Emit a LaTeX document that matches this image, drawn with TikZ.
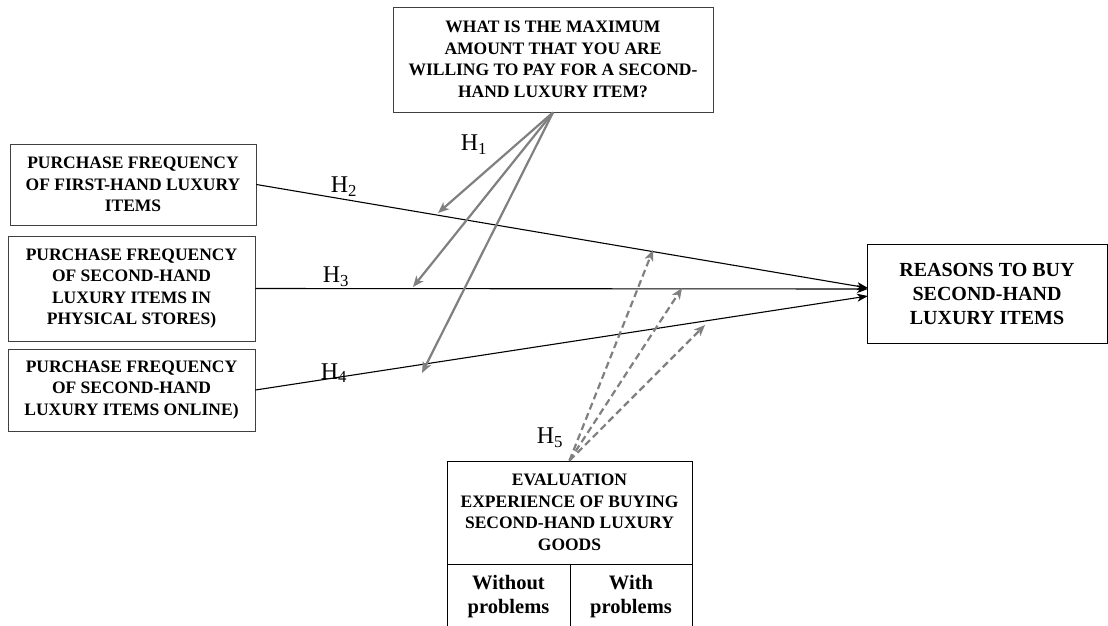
\documentclass[tikz,border=0pt]{standalone}
\usepackage{fontspec}
\setmainfont{Liberation Serif}
\usetikzlibrary{arrows.meta}
\tikzset{
  box/.style={draw=black!75, line width=0.9pt, align=center, inner sep=0pt, font=\fontsize{17.5}{21.5}\selectfont\bfseries},
  blk/.style={draw=black, line width=1.1pt, -{Stealth[length=11pt,width=8pt,inset=3pt]}},
  gry/.style={draw=black!50, line width=2.2pt, -{Stealth[length=11pt,width=9pt,inset=3pt]}},
  dsh/.style={draw=black!50, line width=2.2pt, dash pattern=on 7pt off 4pt, -{Stealth[length=11pt,width=9pt,inset=3pt]}},
  hl/.style={font=\fontsize{24}{26}\selectfont},
  sub/.style={draw=black, line width=0.9pt, align=center, inner sep=0pt, font=\fontsize{20.5}{24}\selectfont\bfseries}
}
\begin{document}
\begin{tikzpicture}[x=1pt,y=-1pt]
\useasboundingbox (0,0) rectangle (1108,625);
\fill[white] (0,0) rectangle (1108,625);
\begin{scope}
\clip (0,0) rectangle (1108,625);
\node[box, minimum width=320pt, minimum height=105pt] (top) at (553,59.5) {WHAT IS THE MAXIMUM\\AMOUNT THAT YOU ARE\\WILLING TO PAY FOR A SECOND-\\HAND LUXURY ITEM?};
\node[box, minimum width=246pt, minimum height=81pt] (b1) at (133,184.5) {PURCHASE FREQUENCY\\OF FIRST-HAND LUXURY\\ITEMS};
\node[box, minimum width=247pt, minimum height=105pt] (b2) at (131.5,288.5) {PURCHASE FREQUENCY\\OF SECOND-HAND\\LUXURY ITEMS IN\\PHYSICAL STORES)};
\node[box, draw=black, minimum width=240pt, minimum height=99pt, font=\fontsize{20}{24}\selectfont\bfseries] (rb) at (987,293.5) {REASONS TO BUY\\SECOND-HAND\\LUXURY ITEMS};
\node[box, minimum width=247pt, minimum height=82pt] (b3) at (131.5,390) {PURCHASE FREQUENCY\\OF SECOND-HAND\\LUXURY ITEMS ONLINE)};
\node[box, draw=black, minimum width=245pt, minimum height=103pt] (ev) at (569.5,512.5) {EVALUATION\\EXPERIENCE OF BUYING\\SECOND-HAND LUXURY\\GOODS};
\node[sub, minimum width=123pt, minimum height=66pt] (wo) at (508.5,597) {Without\\problems};
\node[sub, minimum width=122pt, minimum height=66pt] (wi) at (631,597) {With\\problems};
\end{scope}
% arrow ends
\coordinate (e2) at (868,288);
\coordinate (e3) at (868,289);
\coordinate (e4) at (868,296);
\coordinate (g1) at (438,213);
\coordinate (g2) at (413,287);
\coordinate (g3) at (422,373);
\coordinate (d1) at (653,250);
\coordinate (d2) at (682,288);
\coordinate (d3) at (705,325);
\draw[blk] (b1.east) -- (e2);
\draw[blk] (b2.east) -- (e3);
\draw[blk] (b3.east) -- (e4);
\draw[gry] (top.south) -- (g1);
\draw[gry] (top.south) -- (g2);
\draw[gry] (top.south) -- (g3);
\draw[dsh] (ev.north) -- (d1);
\draw[dsh] (ev.north) -- (d2);
\draw[dsh] (ev.north) -- (d3);
\node[hl] (h1) at (474,145) {H\textsubscript{1}};
\node[hl] (h2) at (344,187) {H\textsubscript{2}};
\node[hl] (h3) at (336,277) {H\textsubscript{3}};
\node[hl] (h4) at (334,373) {H\textsubscript{4}};
\node[hl] (h5) at (550,438) {H\textsubscript{5}};
\end{tikzpicture}
\end{document}
